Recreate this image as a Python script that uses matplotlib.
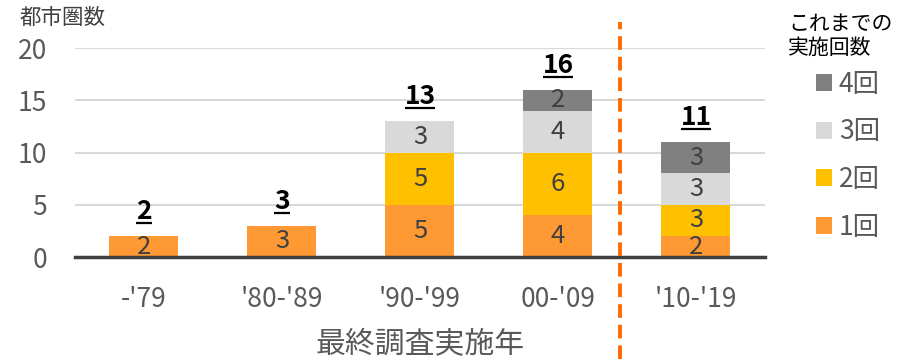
import matplotlib
matplotlib.use('Agg')
import matplotlib.pyplot as plt
from matplotlib.patches import Patch
import numpy as np

plt.rcParams['font.family'] = ['Noto Sans CJK JP', 'DejaVu Sans']

# counts of metro areas by period of latest survey, split by number of surveys done so far
periods = ["-'79", "'80-'89", "'90-'99", "00-'09", "'10-'19"]
once = [2, 3, 5, 4, 2]
twice = [0, 0, 5, 6, 3]
three = [0, 0, 3, 4, 3]
four = [0, 0, 0, 2, 3]
series_names = ['1回', '2回', '3回', '4回']
series_colors = ['#FF9933', '#FFC000', '#D9D9D9', '#808080']

GRAY = '#595959'
LABEL = '#404040'

fig = plt.figure(figsize=(9.1, 3.6), dpi=100)
ax = fig.add_axes([0.0824, 0.286, 0.7582, 0.5806])

x = np.arange(len(periods))
series = [once, twice, three, four]
bottom = np.zeros(len(periods))
for vals, name, col in zip(series, series_names, series_colors):
    vals = np.array(vals, dtype=float)
    ax.bar(x, vals, 0.5, bottom=bottom, color=col, label=name, zorder=2)
    for xi, v, b in zip(x, vals, bottom):
        if v > 0:
            ax.text(xi, b + v / 2, '%d' % v, ha='center', va='center',
                    fontsize=18.5, color=LABEL, zorder=3, clip_on=True)
    bottom = bottom + vals

# totals above each bar, bold and underlined
fig.canvas.draw()
renderer = fig.canvas.get_renderer()
for xi, tot in zip(x, bottom):
    t = ax.annotate('%d' % tot, (xi, tot), xytext=(0, 8), textcoords='offset points',
                    ha='center', va='bottom', fontsize=19, fontweight='bold', color='black')
    bb = t.get_window_extent(renderer)
    inv = ax.transData.inverted()
    (x0, y0), (x1, y1) = inv.transform([(bb.x0, bb.y0 + 4), (bb.x1, bb.y0 + 4)])
    ax.plot([x0, x1], [y0, y0], color='black', lw=1.6, solid_capstyle='butt', clip_on=False)

ax.set_xlim(-0.5, 4.5)
ax.set_ylim(0, 20)
ax.set_yticks([0, 5, 10, 15, 20])
ax.set_xticks(x)
ax.set_xticklabels(periods)
ax.tick_params(axis='both', length=0, labelsize=19, labelcolor=GRAY)
ax.tick_params(axis='x', pad=21)
ax.tick_params(axis='y', pad=20)
ax.grid(axis='y', color='#D9D9D9', lw=1.5, zorder=0)
ax.set_axisbelow(True)
for s in ['top', 'right', 'left']:
    ax.spines[s].set_visible(False)
ax.spines['bottom'].set_color(LABEL)
ax.spines['bottom'].set_linewidth(2.5)
ax.spines['bottom'].set_zorder(4)

ax.set_xlabel('最終調査実施年', fontsize=21.5, color=GRAY, labelpad=11)
fig.text(0.022, 0.95, '都市圏数', fontsize=15.5, color=LABEL, ha='left', va='center')

# dashed divider before the latest decade
ax.axvline(3.45, ymin=-0.49, ymax=1.125, color='#FF6A00', lw=2.8,
           ls=(0, (3.5, 1.8)), clip_on=False, zorder=5)

# legend
fig.text(0.866, 0.9, 'これまでの\n実施回数', fontsize=15, color='black',
         ha='left', va='center', linespacing=1.1)
handles = [Patch(facecolor=c, edgecolor='none') for c in series_colors][::-1]
fig.legend(handles, series_names[::-1], loc='upper left', bbox_to_anchor=(0.882, 0.84),
           frameon=False, fontsize=19, labelcolor=GRAY, handlelength=0.62,
           handleheight=0.62, handletextpad=0.25, labelspacing=0.78, borderpad=0)

fig.savefig('out.png', dpi=100)
